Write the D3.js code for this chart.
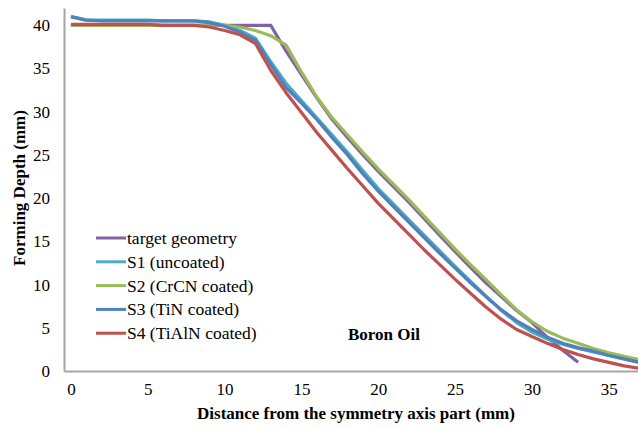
<!DOCTYPE html>
<html>
<head>
<meta charset="utf-8">
<script src="https://cdn.jsdelivr.net/npm/d3@7"></script>
<style>
body { margin: 0; background: #fff; }
text { font-family: "Liberation Serif", "Times New Roman", serif; fill: #000; }
</style>
</head>
<body>
<svg id="chart"></svg>
<script>
// distance from the symmetry axis (mm)
var xs = [0,1,2,3,4,5,6,7,8,9,10,11,12,13,14,15,16,17,18,19,20,21,22,23,24,25,26,27,28,29,30,31,32,33,34,35,36,37];

var targetX = [0, 13, 14, 15, 16, 17, 18, 19, 20, 21, 22, 23, 24, 25, 26, 27, 28, 29, 30, 31, 32, 33];
var targetY = [40, 40, 37.0, 34.3, 31.6, 29.1, 27.0, 25.0, 23.1, 21.3, 19.5, 17.6, 15.7, 13.8, 12.0, 10.2, 8.6, 7.0, 5.6, 3.9, 2.4, 1.0];

var s1 = [41.0,40.6,40.6,40.6,40.6,40.6,40.5,40.5,40.5,40.4,40.0,39.4,38.5,35.8,33.3,31.3,29.3,27.3,25.3,23.2,21.1,19.3,17.5,15.7,13.9,12.1,10.4,8.7,7.0,5.6,4.5,3.7,3.1,2.6,2.2,1.8,1.4,1.0];
var s2 = [40.0,40.0,40.0,40.0,40.0,40.0,40.0,40.0,40.0,40.0,40.0,39.8,39.4,38.8,37.7,34.6,31.7,29.3,27.3,25.3,23.4,21.6,19.8,17.9,16.0,14.1,12.3,10.6,8.8,7.1,5.7,4.6,3.8,3.2,2.6,2.1,1.7,1.3];
var s3 = [41.0,40.6,40.5,40.5,40.5,40.5,40.5,40.5,40.5,40.3,39.9,39.2,38.3,35.5,32.8,31.0,29.1,27.0,25.0,22.8,20.8,19.0,17.2,15.4,13.6,11.9,10.2,8.6,7.1,5.8,4.8,3.9,3.2,2.7,2.3,1.8,1.4,1.0];
var s4 = [40.1,40.1,40.1,40.1,40.1,40.1,40.0,40.0,40.0,39.8,39.4,38.9,37.9,34.8,32.2,29.9,27.6,25.5,23.4,21.4,19.4,17.6,15.8,14.0,12.3,10.6,9.0,7.4,6.0,4.8,4.0,3.2,2.5,1.9,1.4,1.0,0.6,0.3];

var seriesNames = ["target geometry", "S1 (uncoated)", "S2 (CrCN coated)", "S3 (TiN coated)", "S4 (TiAlN coated)"];
var seriesColors = ["#8064a2", "#4bacc6", "#9bbb59", "#4f81bd", "#c0504d"];

var xTicks = [0, 5, 10, 15, 20, 25, 30, 35];
var yTicks = [0, 5, 10, 15, 20, 25, 30, 35, 40];

var width = 638, height = 428;
var plotLeft = 64, plotRight = 638, plotTop = 8, plotBottom = 371;

var svg = d3.select("#chart")
    .attr("width", width)
    .attr("height", height);

var xScale = d3.scaleLinear()
    .domain([-0.45, 36.9])
    .range([plotLeft, plotRight]);

var yScale = d3.scaleLinear()
    .domain([0, 42])
    .range([plotBottom, plotTop]);

svg.append("defs").append("clipPath")
    .attr("id", "plot")
    .append("rect")
    .attr("x", plotLeft)
    .attr("y", 0)
    .attr("width", plotRight - plotLeft)
    .attr("height", plotBottom);

// axes
var xAxis = svg.append("g")
    .attr("transform", "translate(0," + plotBottom + ")")
    .call(d3.axisBottom(xScale).tickValues(xTicks).tickSize(0).tickSizeOuter(0).tickPadding(12));
var yAxis = svg.append("g")
    .attr("transform", "translate(" + plotLeft + ",0)")
    .call(d3.axisLeft(yScale).tickValues(yTicks).tickSize(0).tickSizeOuter(0).tickPadding(14));

[xAxis, yAxis].forEach(function(a) {
    a.select(".domain").attr("stroke", "#a6a6a6").attr("stroke-width", 2);
    a.selectAll("text")
        .style("font-family", "'Liberation Serif', serif")
        .style("font-size", "17px")
        .attr("fill", "#000");
});

// series
var data = [
    targetX.map(function(x, i) { return [x, targetY[i]]; }),
    xs.map(function(x, i) { return [x, s1[i]]; }),
    xs.map(function(x, i) { return [x, s2[i]]; }),
    xs.map(function(x, i) { return [x, s3[i]]; }),
    xs.map(function(x, i) { return [x, s4[i]]; })
];

var line = d3.line()
    .x(d => xScale(d[0]))
    .y(d => yScale(d[1]));

svg.append("g")
    .attr("clip-path", "url(#plot)")
    .selectAll("path")
    .data(data)
    .enter()
    .append("path")
    .attr("d", line)
    .attr("fill", "none")
    .attr("stroke", (d, i) => seriesColors[i])
    .attr("stroke-width", 3.2)
    .attr("stroke-linejoin", "round");

// legend
var legend = svg.append("g").attr("transform", "translate(96,238)");
var items = legend.selectAll("g")
    .data(seriesNames)
    .enter()
    .append("g")
    .attr("transform", (d, i) => "translate(0," + (i * 23.8) + ")");
items.append("line")
    .attr("x1", 0).attr("x2", 30)
    .attr("stroke", (d, i) => seriesColors[i])
    .attr("stroke-width", 3);
items.append("text")
    .attr("x", 31)
    .attr("y", 6)
    .style("font-size", "17.5px")
    .text(d => d);

svg.append("text")
    .attr("x", 348)
    .attr("y", 340)
    .style("font-size", "17px")
    .style("font-weight", "bold")
    .text("Boron Oil");

// axis titles
svg.append("text")
    .attr("x", 356)
    .attr("y", 419)
    .attr("text-anchor", "middle")
    .style("font-size", "17px")
    .style("font-weight", "bold")
    .text("Distance from the symmetry axis part (mm)");

svg.append("text")
    .attr("transform", "translate(25,188) rotate(-90)")
    .attr("text-anchor", "middle")
    .style("font-size", "17px")
    .style("font-weight", "bold")
    .text("Forming Depth (mm)");
</script>
</body>
</html>
